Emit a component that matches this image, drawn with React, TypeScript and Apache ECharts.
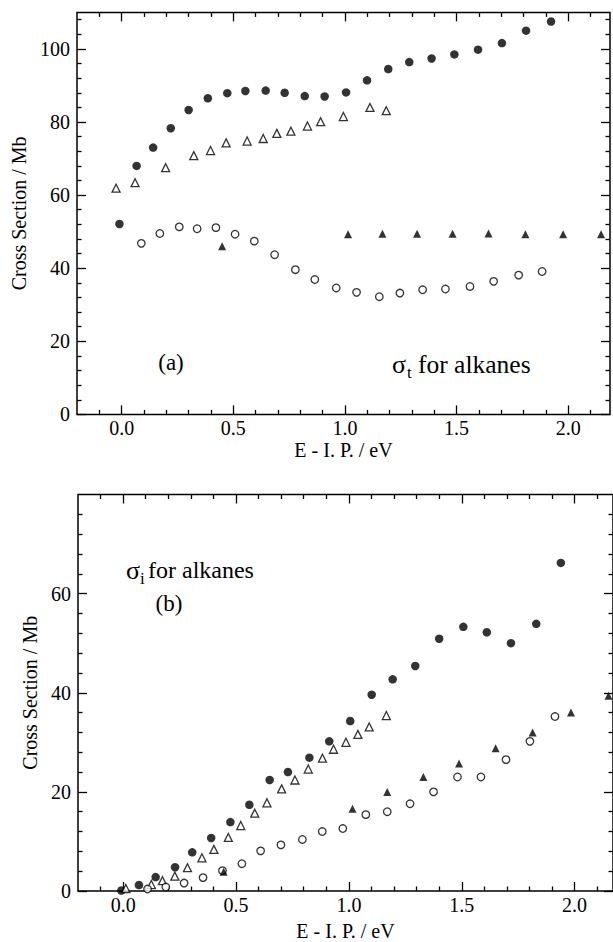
import React, { useEffect, useRef } from "react";
import * as echarts from "echarts";

const FONT = '"Liberation Serif", "Times New Roman", serif';

// ---- Panel (a): total cross sections ----
const aFilledCircles: [number, number][] = [
  [-0.01, 52.1], [0.067, 68.0], [0.141, 73.0], [0.22, 78.3], [0.3, 83.3], [0.386, 86.5],
  [0.473, 87.9], [0.554, 88.5], [0.645, 88.6], [0.73, 88.0], [0.82, 87.1], [0.909, 87.0],
  [1.005, 88.1], [1.099, 91.4], [1.194, 94.5], [1.288, 96.4], [1.388, 97.4], [1.49, 98.5],
  [1.596, 99.8], [1.703, 101.6], [1.811, 105.0], [1.923, 107.5],
];
const aOpenTriangles: [number, number][] = [
  [-0.025, 61.9], [0.06, 63.4], [0.197, 67.5], [0.323, 70.8], [0.398, 72.2], [0.468, 74.3],
  [0.562, 74.8], [0.634, 75.5], [0.695, 76.9], [0.758, 77.5], [0.832, 78.9], [0.891, 80.1],
  [0.993, 81.5], [1.112, 84.0], [1.185, 83.1],
];
const aOpenCircles: [number, number][] = [
  [0.088, 46.8], [0.171, 49.5], [0.258, 51.3], [0.338, 50.8], [0.422, 51.1], [0.508, 49.3],
  [0.594, 47.4], [0.685, 43.7], [0.778, 39.6], [0.865, 36.9], [0.961, 34.6], [1.052, 33.4],
  [1.154, 32.2], [1.246, 33.2], [1.348, 34.1], [1.45, 34.3], [1.56, 35.0], [1.666, 36.4],
  [1.778, 38.1], [1.883, 39.1],
];
const aFilledTriangles: [number, number][] = [
  [0.45, 46.0], [1.014, 49.3], [1.168, 49.4], [1.323, 49.4], [1.482, 49.4], [1.643, 49.5],
  [1.808, 49.3], [1.977, 49.3], [2.147, 49.3],
];

// ---- Panel (b): ionization cross sections ----
const bFilledCircles: [number, number][] = [
  [-0.008, 0.1], [0.07, 1.2], [0.144, 2.8], [0.23, 4.8], [0.306, 7.8], [0.39, 10.7],
  [0.475, 13.9], [0.559, 17.4], [0.649, 22.4], [0.73, 24.0], [0.825, 26.9], [0.913, 30.2],
  [1.006, 34.3], [1.101, 39.6], [1.194, 42.7], [1.294, 45.4], [1.4, 50.9], [1.507, 53.3],
  [1.611, 52.2], [1.718, 50.0], [1.83, 53.9], [1.939, 66.2],
];
const bOpenTriangles: [number, number][] = [
  [0.012, 0.5], [0.125, 1.3], [0.174, 2.1], [0.229, 3.0], [0.285, 4.7], [0.349, 6.7],
  [0.402, 8.4], [0.466, 10.8], [0.521, 13.2], [0.583, 15.7], [0.637, 17.8], [0.702, 20.6],
  [0.761, 22.4], [0.82, 24.6], [0.883, 26.8], [0.932, 28.6], [0.987, 30.0], [1.04, 31.6],
  [1.09, 33.1], [1.166, 35.4],
];
const bOpenCircles: [number, number][] = [
  [0.108, 0.4], [0.189, 0.8], [0.27, 1.6], [0.354, 2.7], [0.44, 4.1], [0.526, 5.5],
  [0.609, 8.1], [0.699, 9.3], [0.794, 10.4], [0.882, 12.0], [0.973, 12.6], [1.075, 15.4],
  [1.17, 16.0], [1.271, 17.6], [1.375, 20.0], [1.481, 23.0], [1.585, 23.0], [1.696, 26.5],
  [1.802, 30.2], [1.913, 35.2],
];
const bFilledTriangles: [number, number][] = [
  [0.445, 3.9], [1.016, 16.6], [1.17, 20.0], [1.33, 23.0], [1.488, 25.7], [1.65, 28.8],
  [1.814, 32.0], [1.984, 36.0], [2.15, 39.4],
];

// ---- ticks ----
const xMajorTicks = [0, 0.5, 1.0, 1.5, 2.0];
const xMinorTicks = [-0.1, 0.1, 0.2, 0.3, 0.4, 0.6, 0.7, 0.8, 0.9, 1.1, 1.2, 1.3, 1.4, 1.6, 1.7, 1.8, 1.9, 2.1];
const aYMajorTicks = [0, 20, 40, 60, 80, 100];
const aYMinorTicks = [4, 8, 12, 16, 24, 28, 32, 36, 44, 48, 52, 56, 64, 68, 72, 76, 84, 88, 92, 96, 104, 108];
const bYMajorTicks = [0, 20, 40, 60];
const bYMinorTicks = [4, 8, 12, 16, 24, 28, 32, 36, 44, 48, 52, 56, 64, 68, 72, 76];

const X_NAME = "E - I. P. / eV";
const Y_NAME = "Cross Section / Mb";

export default function App() {
  const ref = useRef<HTMLDivElement>(null);

  useEffect(() => {
    if (!ref.current) return;
    const chart = echarts.init(ref.current, undefined, { renderer: "svg" });

    const tickStyle = { color: "#000", width: 1.3 };
    const noLine = { show: false, onZero: false };

    const xAxisSet = (gridIndex: number, min: number, max: number, nameGap: number) => [
      {
        type: "value", gridIndex, min, max, position: "bottom",
        name: X_NAME, nameLocation: "middle", nameGap,
        nameTextStyle: { fontFamily: FONT, fontSize: 20, color: "#000" },
        axisLine: noLine, splitLine: { show: false },
        axisTick: { show: true, inside: true, length: 9, customValues: xMajorTicks, lineStyle: tickStyle },
        axisLabel: {
          show: true, customValues: xMajorTicks, margin: 4,
          fontFamily: FONT, fontSize: 20, color: "#000",
          formatter: (v: number) => v.toFixed(1),
        },
      },
      {
        type: "value", gridIndex, min, max, position: "bottom",
        axisLine: noLine, splitLine: { show: false },
        axisTick: { show: true, inside: true, length: 4.5, customValues: xMinorTicks, lineStyle: tickStyle },
        axisLabel: { show: false },
      },
      {
        type: "value", gridIndex, min, max, position: "top",
        axisLine: noLine, splitLine: { show: false },
        axisTick: { show: true, inside: true, length: 9, customValues: xMajorTicks, lineStyle: tickStyle },
        axisLabel: { show: false },
      },
      {
        type: "value", gridIndex, min, max, position: "top",
        axisLine: noLine, splitLine: { show: false },
        axisTick: { show: true, inside: true, length: 4.5, customValues: xMinorTicks, lineStyle: tickStyle },
        axisLabel: { show: false },
      },
    ];

    const yAxisSet = (gridIndex: number, max: number, major: number[], minor: number[], nameGap: number) => [
      {
        type: "value", gridIndex, min: 0, max, position: "left",
        name: Y_NAME, nameLocation: "middle", nameGap,
        nameTextStyle: { fontFamily: FONT, fontSize: 20, color: "#000" },
        axisLine: noLine, splitLine: { show: false },
        axisTick: { show: true, inside: true, length: 9, customValues: major, lineStyle: tickStyle },
        axisLabel: {
          show: true, customValues: major, margin: 7,
          fontFamily: FONT, fontSize: 20, color: "#000",
        },
      },
      {
        type: "value", gridIndex, min: 0, max, position: "left",
        axisLine: noLine, splitLine: { show: false },
        axisTick: { show: true, inside: true, length: 4.5, customValues: minor, lineStyle: tickStyle },
        axisLabel: { show: false },
      },
      {
        type: "value", gridIndex, min: 0, max, position: "right",
        axisLine: noLine, splitLine: { show: false },
        axisTick: { show: true, inside: true, length: 9, customValues: major, lineStyle: tickStyle },
        axisLabel: { show: false },
      },
      {
        type: "value", gridIndex, min: 0, max, position: "right",
        axisLine: noLine, splitLine: { show: false },
        axisTick: { show: true, inside: true, length: 4.5, customValues: minor, lineStyle: tickStyle },
        axisLabel: { show: false },
      },
    ];

    const filled = { color: "#000" };
    const open = { color: "#fff", borderColor: "#000", borderWidth: 1.3 };

    const sc = (name: string, data: [number, number][], grid: number, symbol: string, size: number, style: any) => ({
      type: "scatter", name, data,
      xAxisIndex: grid * 4, yAxisIndex: grid * 4,
      symbol, symbolSize: size, itemStyle: style,
      emphasis: { disabled: true },
    });

    const txt = (text: string, x: number, y: number, size: number, align = "left") => ({
      type: "text", x, y,
      style: {
        text, fontFamily: FONT, fontSize: size, fill: "#000",
        align, verticalAlign: "middle",
      },
    });

    chart.setOption({
      animation: false,
      backgroundColor: "#fff",
      grid: [
        { left: 77, top: 12.4, width: 533, height: 402, show: true, borderColor: "#000", borderWidth: 1.5, containLabel: false },
        { left: 78, top: 494.5, width: 535.6, height: 399.5, show: true, borderColor: "#000", borderWidth: 1.5, containLabel: false },
      ],
      xAxis: [...xAxisSet(0, -0.2, 2.187, 26), ...xAxisSet(1, -0.2, 2.17, 30)],
      yAxis: [...yAxisSet(0, 110, aYMajorTicks, aYMinorTicks, 46), ...yAxisSet(1, 80, bYMajorTicks, bYMinorTicks, 37)],
      series: [
        sc("a filled circles", aFilledCircles, 0, "circle", 8.5, filled),
        sc("a open triangles", aOpenTriangles, 0, "triangle", 8, open),
        sc("a open circles", aOpenCircles, 0, "circle", 7.5, open),
        sc("a filled triangles", aFilledTriangles, 0, "triangle", 8, filled),
        sc("b filled circles", bFilledCircles, 1, "circle", 8.5, filled),
        sc("b open triangles", bOpenTriangles, 1, "triangle", 8, open),
        sc("b open circles", bOpenCircles, 1, "circle", 7.5, open),
        sc("b filled triangles", bFilledTriangles, 1, "triangle", 8, filled),
      ],
      graphic: [
        txt("(a)", 171, 362, 23, "center"),
        txt("σ", 392, 364, 26),
        txt("t", 407, 372, 17),
        txt("for alkanes", 418, 364, 25.5),
        txt("σ", 126, 570, 26),
        txt("i", 140, 578, 17),
        txt("for alkanes", 148, 570, 24),
        txt("(b)", 169, 603, 23, "center"),
      ],
    });

    return () => chart.dispose();
  }, []);

  return (
    <div
      ref={ref}
      style={{ position: "fixed", left: 0, top: 0, width: 613, height: 942, background: "#fff" }}
    />
  );
}
